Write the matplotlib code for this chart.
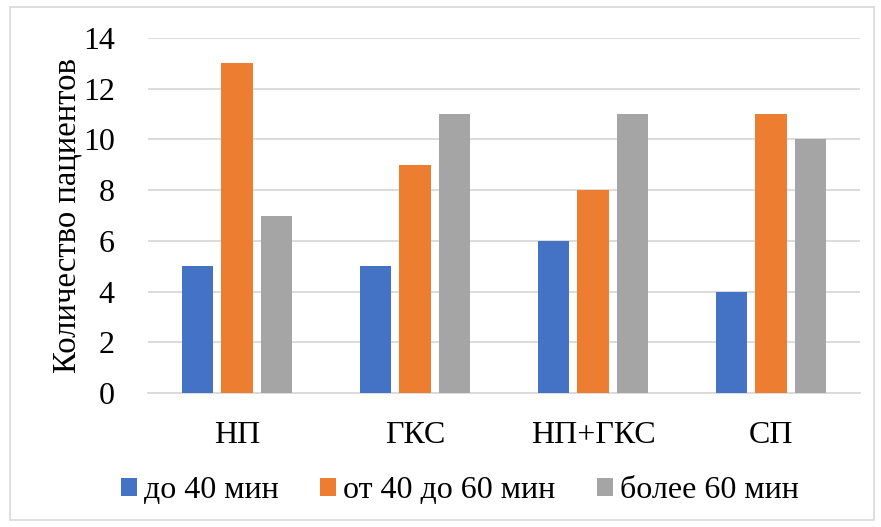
import numpy as np
import matplotlib
matplotlib.use("Agg")
import matplotlib.pyplot as plt
from matplotlib.patches import Rectangle

plt.rcParams['font.family'] = ['Liberation Serif', 'DejaVu Serif']

categories = ['НП', 'ГКС', 'НП+ГКС', 'СП']
series_names = ['до 40 мин', 'от 40 до 60 мин', 'более 60 мин']
under_40 = [5, 5, 6, 4]
from_40_to_60 = [13, 9, 8, 11]
over_60 = [7, 11, 11, 10]
colors = ['#4472C4', '#ED7D31', '#A5A5A5']

fig = plt.figure(figsize=(8.81, 5.27), dpi=100)
# light outer frame like the original chart area
fig.patches.append(Rectangle((10 / 881, 7 / 527), 864 / 881, 513 / 527,
                             transform=fig.transFigure, fill=False,
                             edgecolor='#D9D9D9', linewidth=1.2))
ax = fig.add_axes([148 / 881, 1 - 393 / 527, 712 / 881, 355 / 527])

x = np.arange(len(categories))
width = 0.175
step = 0.223
for i, (vals, name) in enumerate(zip([under_40, from_40_to_60, over_60], series_names)):
    ax.bar(x + (i - 1) * step, vals, width, color=colors[i], label=name, zorder=3)

ax.set_xlim(-0.5, len(categories) - 0.5)
ax.set_ylim(0, 14)
ax.set_yticks(range(0, 15, 2))
ax.set_xticks(x)
ax.set_xticklabels(categories)
ax.tick_params(axis='both', length=0, labelsize=23)
ax.tick_params(axis='x', pad=20)
ax.tick_params(axis='y', pad=24)
ax.grid(axis='y', color='#D9D9D9', linewidth=1.3, zorder=0)
for s in ['top', 'right', 'left']:
    ax.spines[s].set_visible(False)
ax.spines['bottom'].set_color('#D9D9D9')
ax.spines['bottom'].set_linewidth(1.3)
ax.set_ylabel('Количество пациентов', fontsize=23.5, labelpad=0)

fig.legend(loc='center', bbox_to_anchor=(460 / 881, 1 - 491 / 527), ncol=3, frameon=False,
           prop={'family': ['Liberation Serif', 'DejaVu Serif'], 'size': 23},
           handlelength=0.5, handleheight=0.5, handletextpad=0.22,
           columnspacing=1.3)

fig.savefig('out.png', dpi=100)
